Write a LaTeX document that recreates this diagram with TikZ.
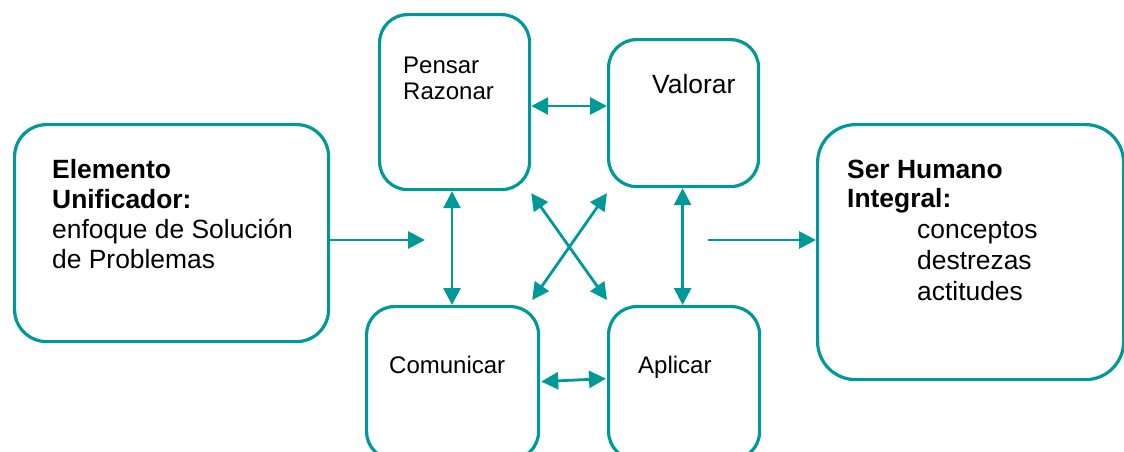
\documentclass[tikz,border=0pt]{standalone}
\usepackage{fontspec}
\setmainfont{Liberation Sans}
\usetikzlibrary{arrows.meta,calc}
\definecolor{linecol}{RGB}{0,153,153}
\tikzset{
  box/.style={draw=linecol, line width=3.2pt, rounded corners=#1, anchor=north west, inner sep=0pt},
  box/.default=28pt,
  txt/.style={anchor=base west, inner sep=0pt, align=left, text=black},
  arr/.style={draw=linecol, line width=2.8pt, {Triangle[length=17pt, width=17pt]}-{Triangle[length=17pt, width=17pt]}},
  arrto/.style={draw=linecol, line width=2.8pt, -{Triangle[length=17pt, width=17pt]}},
}
\begin{document}
\begin{tikzpicture}[x=1pt, y=-1pt]
\useasboundingbox (0,0) rectangle (1124,451);

% boxes
\node[box=32pt, minimum width=314pt, minimum height=217pt] (unif) at (13,123) {};
\node[box, minimum width=150pt, minimum height=175pt] (pensar) at (378,13) {};
\node[box, minimum width=150pt, minimum height=147pt] (valorar) at (607,38) {};
\node[box, minimum width=172pt, minimum height=153pt] (comunicar) at (365,305) {};
\node[box, minimum width=151pt, minimum height=153pt] (aplicar) at (607,305) {};
\node[box=38pt, minimum width=306pt, minimum height=255pt] (ser) at (816,123) {};

% texts (anchored at the baseline of their last line)
\node[txt, font=\fontsize{26.4}{30}\selectfont] (tunif) at (52,268)
  {\textbf{Elemento}\\\textbf{Unificador:}\\enfoque de Solución\\de Problemas};
\node[txt, font=\fontsize{24}{26}\selectfont] (tpensar) at (403,99) {Pensar\\Razonar};
\node[txt, font=\fontsize{26.4}{28}\selectfont] (tvalorar) at (652,93) {Valorar};
\node[txt, font=\fontsize{24}{26}\selectfont] (tcomunicar) at (389,373) {Comunicar};
\node[txt, font=\fontsize{24}{26}\selectfont] (taplicar) at (638,373) {Aplicar};
\node[txt, font=\fontsize{26.4}{29}\selectfont\bfseries] (tser) at (847,207) {Ser Humano\\Integral:};
\node[txt, font=\fontsize{26.4}{31}\selectfont] (tlist) at (917,300) {conceptos\\destrezas\\actitudes};

% helper points for the connectors
\coordinate (midL) at (425,240);
\coordinate (midR) at (708,240);
\coordinate (rowTop) at (0,106);
\coordinate (colL) at (452,0);

% connectors
\draw[arrto] (unif.east |- midL) -- (midL);
\draw[arrto] (midR) -- (ser.west |- midR);
\draw[arr] (pensar.east |- rowTop) -- (valorar.west |- rowTop);
\draw[arr] (pensar.south -| colL) -- (comunicar.north -| colL);
\draw[arr] ($(valorar.south)+(-1,0)$) -- ($(aplicar.north)+(-1.5,0)$);
\draw[arr] ($(pensar.south east)+(0,2)$) -- ($(aplicar.north west)+(0,-5)$);
\draw[arr] ($(valorar.south west)+(0,5)$) -- ($(comunicar.north east)+(-8,-5)$);
\draw[arr] ($(comunicar.east)+(1,-1.5)$) -- ($(aplicar.west)+(-1,-4.5)$);
\end{tikzpicture}
\end{document}
